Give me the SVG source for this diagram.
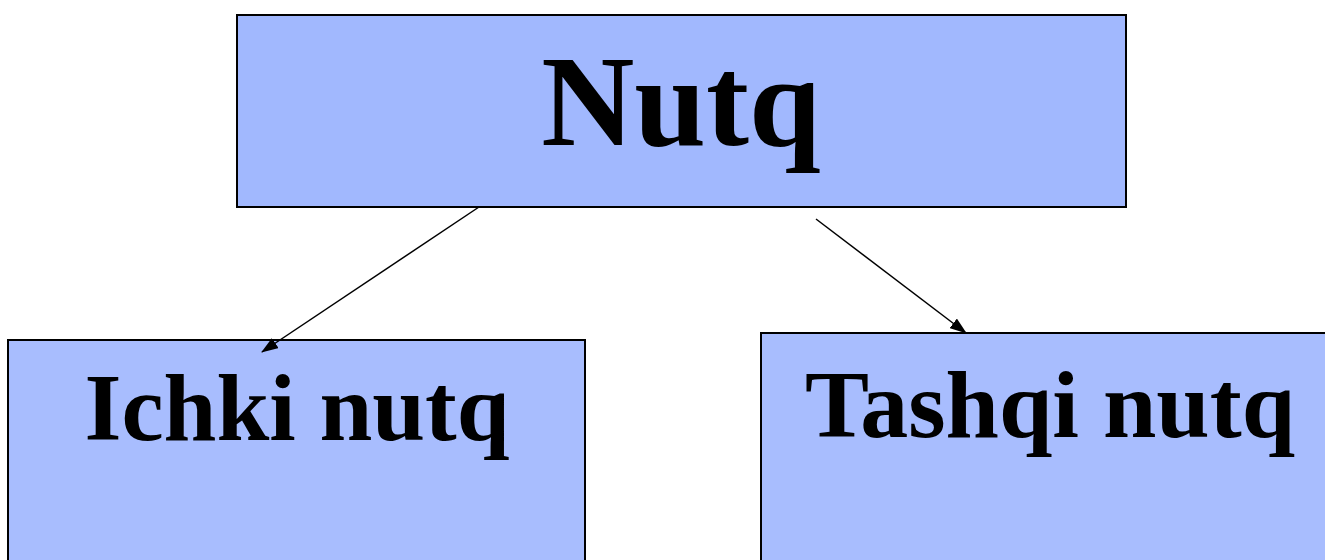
<svg xmlns="http://www.w3.org/2000/svg" width="1325" height="560" viewBox="0 0 1325 560">
<style>
.box{stroke:#000;stroke-width:2}
.t{font-family:"Liberation Serif","Times New Roman",serif;font-weight:bold;fill:#000;text-anchor:middle}
.c{stroke:#000;stroke-width:1.5;fill:none}
</style>
<defs>
<marker id="ah" markerWidth="17" markerHeight="12" refX="16" refY="6" orient="auto" markerUnits="userSpaceOnUse" viewBox="0 0 17 12">
<path d="M0,0 L17,6 L0,12 Z" fill="#000"/>
</marker>
</defs>
<rect width="1325" height="560" fill="#fff"/>
<g id="nutq">
<rect class="box" x="237" y="15" width="889" height="192" fill="#A1B8FE"/>
<text class="t" x="681" y="145" font-size="129">Nutq</text>
</g>
<g id="ichki">
<rect class="box" x="8" y="340" width="577" height="230" fill="#A8BDFE"/>
<text class="t" x="297" y="440" font-size="95">Ichki nutq</text>
</g>
<g id="tashqi">
<rect class="box" x="761" y="333" width="580" height="240" fill="#A8BDFE"/>
<text class="t" x="1050" y="437" font-size="96">Tashqi nutq</text>
</g>
<g id="connectors">
<line class="c" x1="479" y1="207" x2="262" y2="352" marker-end="url(#ah)"/>
<line class="c" x1="816" y1="219" x2="966" y2="333" marker-end="url(#ah)"/>
</g>
</svg>
